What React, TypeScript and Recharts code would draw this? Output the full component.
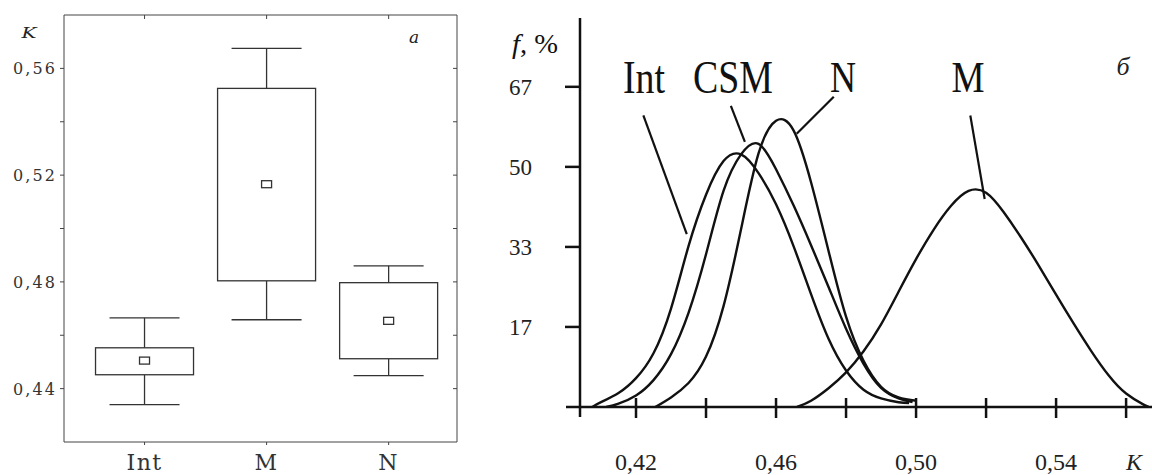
import React from 'react';
import {
  ComposedChart, Bar, XAxis, YAxis,
  LineChart, Line, ReferenceLine,
} from 'recharts';

// panel a: box plot of K by group
const groups = ['Int', 'M', 'N'];
const groupPos = [1, 2, 3];
const whiskerLow = [0.434, 0.4658, 0.4449];
const boxLow = [0.4452, 0.4804, 0.4512];
const groupMean = [0.4505, 0.5166, 0.4654];
const boxHigh = [0.4553, 0.5525, 0.4797];
const whiskerHigh = [0.4665, 0.5675, 0.486];
const boxTicks = [0.44, 0.46, 0.48, 0.5, 0.52, 0.54, 0.56];
const boxLabelTicks = [0.44, 0.48, 0.52, 0.56];

// panel б: distribution curves f(K), %
const intK = [0.4075, 0.41, 0.415, 0.42, 0.425, 0.43, 0.435, 0.44, 0.445, 0.45, 0.455, 0.46, 0.465, 0.47, 0.475, 0.48, 0.485, 0.49, 0.495, 0.498];
const intF = [0, 1.0, 2.9, 6.0, 11.2, 20.5, 33.5, 44.2, 51.2, 52.6, 48.7, 42.2, 33.5, 23.5, 14.2, 7.6, 3.6, 1.8, 1.0, 0.8];
const csmK = [0.4115, 0.415, 0.42, 0.425, 0.43, 0.435, 0.44, 0.445, 0.45, 0.455, 0.46, 0.465, 0.47, 0.475, 0.48, 0.485, 0.49, 0.495, 0.499];
const csmF = [0, 0.7, 2.4, 5.6, 11.0, 19.6, 31.8, 45.0, 52.6, 54.8, 49.5, 42.0, 33.7, 25.0, 16.3, 9.0, 4.0, 1.8, 1.0];
const nK = [0.4255, 0.43, 0.435, 0.44, 0.445, 0.45, 0.455, 0.46, 0.465, 0.47, 0.475, 0.48, 0.485, 0.49, 0.495, 0.5];
const nF = [0, 2.0, 5.0, 10.5, 21.0, 37.0, 52.8, 59.6, 57.6, 46.8, 32.5, 18.8, 9.6, 4.2, 2.0, 1.3];
const mK = [0.466, 0.47, 0.475, 0.48, 0.485, 0.49, 0.495, 0.5, 0.505, 0.51, 0.515, 0.52, 0.525, 0.53, 0.535, 0.54, 0.545, 0.55, 0.555, 0.56, 0.565, 0.5665];
const mF = [0, 1.3, 3.9, 7.2, 11.6, 17.2, 24.0, 30.8, 36.9, 41.9, 45.0, 44.6, 40.6, 35.3, 29.5, 23.4, 17.4, 11.7, 6.6, 2.8, 0.5, 0];
const fTicks = [16.67, 33.33, 50, 66.67];
const kTicks = [0.42, 0.44, 0.46, 0.48, 0.5, 0.52, 0.54, 0.56];
const kLabelTicks = [0.42, 0.46, 0.5, 0.54];

// leader lines from curve names to curves: [k1, f1, k2, f2]
const leaders = [
  [0.4221, 60.7, 0.4345, 36.0],
  [0.4471, 62.7, 0.4511, 55.2],
  [0.4765, 64.6, 0.4659, 56.9],
  [0.5155, 60.7, 0.5196, 43.3],
];

const INK = '#111';
const FRAME = '#444';
// plot area of panel a, used to mirror ticks on the top/right frame
const BOX_PLOT_W = 393;
const BOX_PLOT_H = 427;

const boxData = groups.map((name, i) => ({
  name, pos: groupPos[i], lo: whiskerLow[i], q1: boxLow[i],
  mean: groupMean[i], q3: boxHigh[i], hi: whiskerHigh[i],
}));

const toPoints = (k: number[], f: number[]) => k.map((v, i) => ({ k: v, f: f[i] }));
const curves = [toPoints(intK, intF), toPoints(csmK, csmF), toPoints(nK, nF), toPoints(mK, mF)];

const fmt = (v: number) => v.toFixed(2).replace('.', ',');
const isIn = (list: number[], v: number) => list.some((t) => Math.abs(t - v) < 1e-6);

function BoxShape(props: any) {
  const { x, y, width, height, payload } = props;
  const { lo, q1, mean, q3, hi } = payload;
  // y/height span the whisker range; place the rest along the same linear scale
  const py = (v: number) => y + (height * (hi - v)) / (hi - lo);
  const cx = x + width / 2;
  const cap = 35;
  return (
    <g stroke="#333" strokeWidth={1.3} fill="none">
      <line x1={cx} x2={cx} y1={py(hi)} y2={py(q3)} />
      <line x1={cx} x2={cx} y1={py(q1)} y2={py(lo)} />
      <line x1={cx - cap} x2={cx + cap} y1={py(hi)} y2={py(hi)} />
      <line x1={cx - cap} x2={cx + cap} y1={py(lo)} y2={py(lo)} />
      <rect x={x} y={py(q3)} width={width} height={py(q1) - py(q3)} fill="#fff" />
      <rect x={cx - 5} y={py(mean) - 3.5} width={10} height={7} fill="#fff" />
    </g>
  );
}

function BoxLeftTick({ x, y, payload }: any) {
  return (
    <g>
      <line x1={x - 4} x2={x} y1={y} y2={y} stroke={FRAME} />
      <line x1={x + BOX_PLOT_W - 4} x2={x + BOX_PLOT_W} y1={y} y2={y} stroke={FRAME} />
      {isIn(boxLabelTicks, payload.value) && (
        <text x={x - 9} y={y + 6} textAnchor="end" fontFamily="DejaVu Serif" fontSize={16}
          fill="#333" textLength={42} lengthAdjust="spacing">
          {fmt(payload.value)}
        </text>
      )}
    </g>
  );
}

function BoxBottomTick({ x, y, index }: any) {
  return (
    <g>
      <line x1={x} x2={x} y1={y} y2={y + 3} stroke={FRAME} />
      <line x1={x} x2={x} y1={y - BOX_PLOT_H} y2={y - BOX_PLOT_H + 4} stroke={FRAME} />
      <text x={x} y={y + 28} textAnchor="middle" fontFamily="DejaVu Serif" fontSize={22}
        fill="#333" letterSpacing={1.5}>
        {groups[index]}
      </text>
    </g>
  );
}

function FTick({ x, y, payload }: any) {
  return (
    <g>
      <line x1={x - 15} x2={x} y1={y} y2={y} stroke={INK} strokeWidth={2.5} />
      <text x={x - 48} y={y + 8} textAnchor="end" fontFamily="Liberation Serif" fontSize={23} fill="#222">
        {Math.round(payload.value)}
      </text>
    </g>
  );
}

function KTick({ x, y, payload }: any) {
  return (
    <g>
      <line x1={x} x2={x} y1={y - 9} y2={y + 11} stroke={INK} strokeWidth={2.5} />
      {isIn(kLabelTicks, payload.value) && (
        <text x={x} y={y + 63} textAnchor="middle" fontFamily="Liberation Serif" fontSize={24} fill="#222">
          {fmt(payload.value)}
        </text>
      )}
    </g>
  );
}

const serif = 'Liberation Serif';

export default function App() {
  return (
    <div style={{ position: 'absolute', left: 0, top: 0, width: 1152, height: 475, background: '#fff' }}>
      <div style={{ position: 'absolute', left: 0, top: 0 }}>
        <ComposedChart width={470} height={475} data={boxData}
          margin={{ top: 15, right: 13, bottom: 0, left: 8 }}>
          <XAxis dataKey="pos" type="number" domain={[0.34, 3.56]} ticks={groupPos} allowDataOverflow
            height={33} stroke={FRAME} tickLine={false} tickSize={0} tickMargin={0} interval={0}
            tick={<BoxBottomTick />} />
          <YAxis type="number" domain={[0.42, 0.58]} ticks={boxTicks} allowDataOverflow width={56}
            stroke={FRAME} tickLine={false} tickSize={0} tickMargin={0} interval={0}
            tick={<BoxLeftTick />} />
          <ReferenceLine y={0.58} stroke={FRAME} ifOverflow="visible" />
          <ReferenceLine x={3.56} stroke={FRAME} ifOverflow="visible" />
          <Bar dataKey={(d: any) => [d.lo, d.hi]} barSize={98} isAnimationActive={false}
            shape={(p: any) => <BoxShape {...p} />} />
        </ComposedChart>
      </div>

      <div style={{ position: 'absolute', left: 480, top: 0 }}>
        <LineChart width={672} height={475} margin={{ top: 18, right: 0, bottom: 0, left: 0 }}>
          <XAxis dataKey="k" type="number" domain={[0.404, 0.5674]} ticks={kTicks} allowDataOverflow
            height={68} axisLine={false} tickLine={false} tickSize={0} tickMargin={0} interval={0}
            tick={<KTick />} />
          <YAxis type="number" domain={[0, 81]} ticks={fTicks} allowDataOverflow width={100}
            axisLine={false} tickLine={false} tickSize={0} tickMargin={0} interval={0}
            tick={<FTick />} />
          <ReferenceLine segment={[{ x: 0.4, y: 0 }, { x: 0.5674, y: 0 }]} stroke={INK}
            strokeWidth={2.5} ifOverflow="visible" />
          <ReferenceLine segment={[{ x: 0.404, y: -2.1 }, { x: 0.404, y: 81 }]} stroke={INK}
            strokeWidth={2.5} ifOverflow="visible" />
          {leaders.map((l, i) => (
            <ReferenceLine key={i} segment={[{ x: l[0], y: l[1] }, { x: l[2], y: l[3] }]}
              stroke={INK} strokeWidth={2.2} ifOverflow="visible" />
          ))}
          {curves.map((pts, i) => (
            <Line key={i} data={pts} dataKey="f" type="natural" stroke={INK} strokeWidth={2.4}
              dot={false} isAnimationActive={false} />
          ))}
        </LineChart>
      </div>

      <svg width={1152} height={475} style={{ position: 'absolute', left: 0, top: 0, pointerEvents: 'none' }}>
        <text x={29} y={38} textAnchor="middle" fontFamily="DejaVu Serif" fontStyle="italic" fontSize={14}
          fill="#222" textLength={15} lengthAdjust="spacingAndGlyphs">K</text>
        <text x={414} y={43} textAnchor="middle" fontFamily="DejaVu Serif" fontStyle="italic" fontSize={17}
          fill="#222">a</text>

        <text x={512} y={53} fontFamily={serif} fontSize={27} fill="#111" textLength={46}
          lengthAdjust="spacingAndGlyphs">
          <tspan fontStyle="italic">f</tspan>, %
        </text>
        <text x={644} y={93} textAnchor="middle" fontFamily={serif} fontSize={46} fill="#111"
          textLength={42} lengthAdjust="spacingAndGlyphs">Int</text>
        <text x={733} y={93} textAnchor="middle" fontFamily={serif} fontSize={46} fill="#111"
          textLength={80} lengthAdjust="spacingAndGlyphs">CSM</text>
        <text x={843} y={92} textAnchor="middle" fontFamily={serif} fontSize={44} fill="#111"
          textLength={26} lengthAdjust="spacingAndGlyphs">N</text>
        <text x={968} y={92} textAnchor="middle" fontFamily={serif} fontSize={44} fill="#111"
          textLength={33} lengthAdjust="spacingAndGlyphs">M</text>
        <text x={1123} y={75} textAnchor="middle" fontFamily={serif} fontStyle="italic" fontSize={26}
          fill="#222">б</text>
        <text x={1134} y={470} textAnchor="middle" fontFamily={serif} fontStyle="italic" fontSize={24}
          fill="#222">K</text>
      </svg>
    </div>
  );
}
